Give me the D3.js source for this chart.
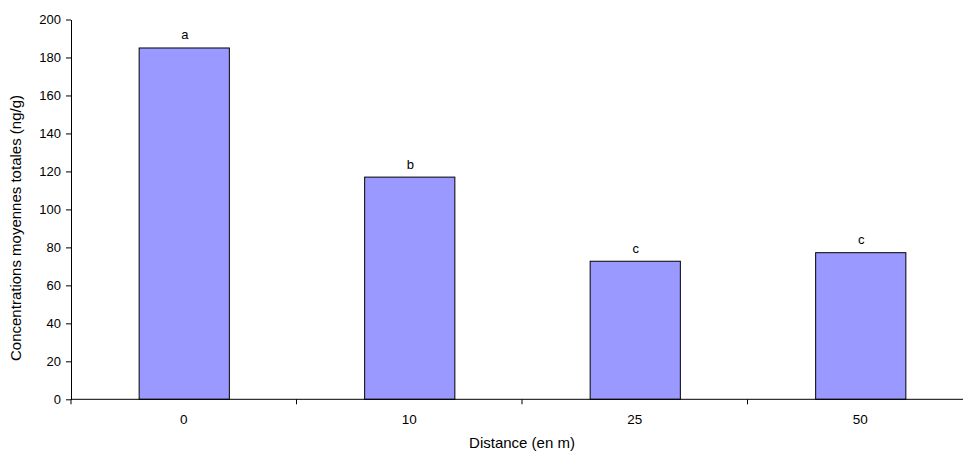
<!DOCTYPE html>
<html><head><meta charset="utf-8">
<script src="https://cdn.jsdelivr.net/npm/d3@7"></script>
<style>
html,body{margin:0;padding:0;background:#fff;}
svg text{font-family:"Liberation Sans",Arial,sans-serif;fill:#000;}
</style></head>
<body>
<svg id="c" width="963" height="452"></svg>
<script>
const categories = ["0", "10", "25", "50"];
const values = [185, 117, 72.7, 77.2];
const letters = ["a", "b", "c", "c"];
const yTicks = [0, 20, 40, 60, 80, 100, 120, 140, 160, 180, 200];

const svg = d3.select("#c");
const mLeft = 71, mRight = 973, mTop = 19.5, mBottom = 399.3;

const x = d3.scaleBand().domain(categories).range([mLeft, mRight]).paddingInner(0.6).paddingOuter(0.3);
const y = d3.scaleLinear().domain([0, 200]).range([mBottom, mTop]);

// bars
svg.selectAll("rect.bar").data(values).enter().append("rect")
  .attr("x", (d,i) => x(categories[i]) + 0.5)
  .attr("y", d => y(d))
  .attr("width", x.bandwidth())
  .attr("height", d => mBottom - y(d))
  .attr("fill", "#9999FF")
  .attr("stroke", "#000")
  .attr("stroke-width", 1);

// letters
svg.selectAll("text.lbl").data(letters).enter().append("text")
  .attr("x", (d,i) => x(categories[i]) + x.bandwidth()/2 + 1)
  .attr("y", (d,i) => y(values[i]) - 8.5)
  .attr("text-anchor", "middle")
  .attr("font-size", "13px")
  .text(d => d);

// y axis
const yAxis = d3.axisLeft(y).tickValues(yTicks).tickSize(5).tickPadding(5).tickSizeOuter(0);
const gy = svg.append("g").attr("transform", `translate(${mLeft},0)`).call(yAxis);
gy.select(".domain").attr("stroke", "#000");
gy.selectAll(".tick line").attr("stroke", "#000");
gy.selectAll(".tick text").attr("font-size", "13px").attr("font-family", "Liberation Sans, Arial, sans-serif").attr("fill", "#000");

// x axis
const gx = svg.append("g").attr("transform", `translate(0,${mBottom})`);
gx.append("line").attr("x1", mLeft).attr("x2", mRight).attr("y1", 0).attr("y2", 0).attr("stroke", "#000");
const step = x.step();
const bounds = categories.map((c,i) => x(c) - x.paddingInner()*step/2);
bounds[0] = mLeft;
gx.selectAll("line.t").data(bounds).enter().append("line")
  .attr("x1", d => d).attr("x2", d => d).attr("y1", 0).attr("y2", 5).attr("stroke", "#000");
gx.selectAll("text.t").data(categories).enter().append("text")
  .attr("x", d => x(d) + x.bandwidth()/2)
  .attr("y", 24.5)
  .attr("text-anchor", "middle")
  .attr("font-size", "13.5px")
  .text(d => d);

// axis titles
svg.append("text").attr("x", 522).attr("y", 448).attr("text-anchor", "middle")
  .attr("font-size", "15px").text("Distance (en m)");
svg.append("text").attr("transform", "translate(21,228) rotate(-90)").attr("text-anchor", "middle")
  .attr("font-size", "15px").text("Concentrations moyennes totales (ng/g)");
</script>
</body></html>
